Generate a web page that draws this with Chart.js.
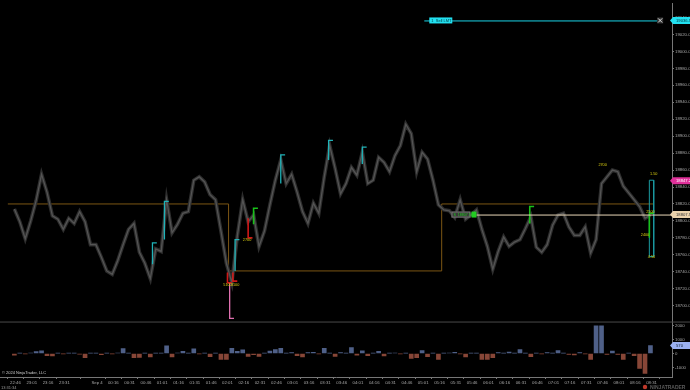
<!DOCTYPE html>
<html>
<head>
<meta charset="utf-8">
<script src="https://cdn.jsdelivr.net/npm/chart.js@4.4.1/dist/chart.umd.min.js"></script>
<style>
  html, body { margin: 0; padding: 0; background: #000; }
  #wrap { width: 690px; height: 390px; }
</style>
</head>
<body>
<div id="wrap"><canvas id="chart" width="690" height="390"></canvas></div>
<script>
// 5-minute closes, first bar 22:45 (Sep 3)
const startTime = "22:45";
const closes = [
  18814, 18799, 18779, 18800, 18824, 18855, 18834, 18806, 18802, 18790,
  18803, 18797, 18811, 18799, 18772, 18772, 18757, 18741, 18737, 18753,
  18772, 18790, 18797, 18763, 18750, 18732, 18767, 18764, 18825, 18786,
  18796, 18809, 18811, 18848, 18852, 18846, 18831, 18825, 18788, 18750,
  18727, 18782, 18825, 18799, 18807, 18770, 18788, 18819, 18848, 18872,
  18844, 18855, 18834, 18811, 18797, 18821, 18809, 18852, 18889, 18862,
  18832, 18844, 18863, 18854, 18881, 18844, 18848, 18875, 18869, 18858,
  18877, 18889, 18914, 18903, 18858, 18881, 18873, 18848, 18819, 18813,
  18812, 18804, 18825, 18802, 18807, 18813, 18790, 18770, 18743, 18764,
  18781, 18770, 18775, 18778, 18791, 18805, 18769, 18763, 18772, 18795,
  18807, 18809, 18793, 18783, 18783, 18793, 18762, 18778, 18844, 18852,
  18860, 18858, 18841, 18833, 18825, 18817, 18803, 18807
];
// cumulative delta per 5-minute bar
const deltas = [
  -120, 30, -20, 40, 140, 200, -150, -180, 20, -30,
  30, 20, -40, -300, 20, 30, -80, 20, -30, 40,
  360, 30, -300, -280, 20, -250, 30, 20, 560, -250,
  40, 150, 30, 330, -20, 30, -230, 20, -420, -430,
  380, 150, 260, -200, -80, -200, 30, 180, 280, 370,
  20, 60, -150, -250, 60, 80, -30, 380, 20, -200,
  60, 30, 420, -110, 200, -150, 30, 150, -180, 20,
  40, -30, 20, -360, -300, 220, -230, 30, -430, 20,
  40, 80, -30, -250, 30, 20, -420, -430, -300, 60,
  30, 100, 20, 280, 30, -220, 20, -30, 60, 30,
  210, 20, -60, -100, 60, -30, -420, 2000, 2000, -60,
  180, -70, -430, 30, -150, -1070, -1430, 570
];

const priceTicks = [19040, 19020, 19000, 18980, 18960, 18940, 18920, 18900, 18880,
  18860, 18840, 18820, 18800, 18780, 18760, 18740, 18720, 18700];
const deltaTicks = [2000, 1500, 1000, 500, 0, -500, -1000, -1500];
const timeLabels = ["22:46", "23:01", "23:16", "23:31", "Sep 4", "00:16", "00:31", "00:46",
  "01:01", "01:16", "01:31", "01:46", "02:01", "02:16", "02:31", "02:46", "03:01", "03:16",
  "03:31", "03:46", "04:01", "04:16", "04:31", "04:46", "05:01", "05:16", "05:31", "05:46",
  "06:01", "06:16", "06:31", "06:46", "07:01", "07:16", "07:31", "07:46", "08:01", "08:16", "08:31"];

// prior range (stepped line)
const rangeTimes = ["22:39", "02:02", "05:18", "08:33"];
const rangeLevels = [18820, 18741, 18820, 18820];

// signal markers
const cyanTimes = ["00:52", "01:03", "02:08", "02:50", "03:34", "04:05"];
const cyanLow = [18749, 18778, 18741, 18844, 18872, 18867];
const cyanHigh = [18774, 18823, 18778, 18878, 18895, 18887];
const greenTimes = ["02:25", "06:39", "08:29"];
const greenLow = [18796, 18797, 18780];
const greenHigh = [18815, 18817, 18809];
const redTimes = ["02:01", "02:06", "02:20"];
const redLow = [18727, 18729, 18780];
const redHigh = [18739, 18739, 18803];
const pinkTimes = ["02:03"];
const pinkLow = [18685];
const pinkHigh = [18727];

// small yellow tags
const tagTimes = ["07:46", "08:33", "08:25", "08:30", "08:31", "02:19", "02:01", "02:08"];
const tagPrices = [18866, 18855, 18784, 18810, 18757, 18777, 18725, 18725];
const tagTexts = ["2700", "1.50", "2400", "2500", "4.50", "2700", "5100", "3100"];

// open order / position / current
const orderTimes = ["05:02", "08:38"];
const orderPrice = 19036.5;
const positionTimes = ["05:27", "08:42"];
const positionPrice = 18807.5;
const markPrice = 18847.25;
const boxTimes = ["08:29", "08:33"];
const boxLow = 18758;
const boxHigh = 18848;

function toMin(s) {
  if (s === "Sep 4") s = "00:01";
  const [h, m] = s.split(":").map(Number);
  const [h0, m0] = startTime.split(":").map(Number);
  let d = h * 60 + m - (h0 * 60 + m0);
  if (d < -120) d += 1440;
  return d;
}

const priceData = closes.map((c, i) => ({ x: i * 5, y: c }));
const deltaData = deltas.map((d, i) => ({ x: i * 5, y: d }));
const rangeData = rangeTimes.map((t, i) => ({ x: toMin(t), y: rangeLevels[i] }));

function markerPoints(times, lows, highs, tickAtTop) {
  const pts = [];
  times.forEach((t, i) => {
    const x = toMin(t);
    const tickY = tickAtTop ? highs[i] : lows[i];
    pts.push({ x: x, y: lows[i] }, { x: x, y: highs[i] });
    pts.push({ x: x, y: tickY }, { x: x + 4, y: tickY }, { x: x + 4, y: null });
  });
  return pts;
}

const bx0 = toMin(boxTimes[0]), bx1 = toMin(boxTimes[1]);
const boxData = [
  { x: bx0, y: boxLow }, { x: bx0, y: boxHigh }, { x: bx1, y: boxHigh },
  { x: bx1, y: boxLow }, { x: bx0, y: boxLow }
];

const fontFam = "Arial, 'Liberation Sans', sans-serif";

const overlay = {
  id: "overlay",
  beforeDraw(chart) {
    const c = chart.ctx;
    c.save();
    c.fillStyle = "#000";
    c.fillRect(0, 0, chart.width, chart.height);
    c.restore();
  },
  afterDraw(chart) {
    const c = chart.ctx;
    const xs = chart.scales.x, ys = chart.scales.y, vs = chart.scales.v;
    c.save();
    // panel separator
    c.strokeStyle = "#4a4a4a";
    c.lineWidth = 1;
    c.beginPath();
    c.moveTo(0, ys.bottom + 0.5);
    c.lineTo(chart.width, ys.bottom + 0.5);
    c.stroke();

    // order line (cyan)
    const oy = ys.getPixelForValue(orderPrice);
    const ox0 = xs.getPixelForValue(toMin(orderTimes[0]));
    const ox1 = xs.getPixelForValue(toMin(orderTimes[1]));
    c.strokeStyle = "#19d3e6";
    c.beginPath();
    c.moveTo(ox0, oy + 0.5);
    c.lineTo(ox1, oy + 0.5);
    c.stroke();
    c.fillStyle = "#22e0f0";
    c.fillRect(ox0 + 5, oy - 3, 23, 6);
    c.fillStyle = "#003a40";
    c.font = "4px " + fontFam;
    c.textBaseline = "middle";
    c.fillText("1  Sell LMT", ox0 + 7, oy + 0.3);
    // close X
    c.strokeStyle = "#ddd";
    c.fillStyle = "#333";
    c.fillRect(ox1 - 2, oy - 3, 6, 6);
    c.beginPath();
    c.moveTo(ox1 - 1, oy - 2); c.lineTo(ox1 + 3, oy + 2);
    c.moveTo(ox1 + 3, oy - 2); c.lineTo(ox1 - 1, oy + 2);
    c.stroke();

    // position line (tan)
    const py = ys.getPixelForValue(positionPrice);
    const px0 = xs.getPixelForValue(toMin(positionTimes[0]));
    c.strokeStyle = "#e9d8b8";
    c.beginPath();
    c.moveTo(px0 + 25, py + 0.5);
    c.lineTo(ys.left, py + 0.5);
    c.stroke();
    c.fillStyle = "#3a3a3a";
    c.fillRect(px0, py - 3, 19, 6);
    c.strokeStyle = "#777";
    c.strokeRect(px0 + 0.5, py - 2.5, 18, 5);
    c.fillStyle = "#22cc22";
    c.fillRect(px0 + 20, py - 3, 5, 6);
    c.font = "3.6px " + fontFam;
    c.fillText("S  18807.50", px0 + 2, py + 0.3);

    // yellow tags
    c.fillStyle = "#d8cc10";
    c.font = "3.8px " + fontFam;
    c.textAlign = "center";
    tagTimes.forEach((t, i) => {
      c.fillText(tagTexts[i], xs.getPixelForValue(toMin(t)), ys.getPixelForValue(tagPrices[i]));
    });

    // right-axis price flags
    c.textAlign = "left";
    const flag = (y, bg, fg, txt) => {
      c.fillStyle = bg;
      c.beginPath();
      c.moveTo(ys.left - 2, y);
      c.lineTo(ys.left + 1, y - 3.5);
      c.lineTo(chart.width, y - 3.5);
      c.lineTo(chart.width, y + 3.5);
      c.lineTo(ys.left + 1, y + 3.5);
      c.closePath();
      c.fill();
      c.fillStyle = fg;
      c.font = "4.2px " + fontFam;
      c.fillText(txt, ys.left + 4, y + 0.3);
    };
    flag(oy, "#22e0f0", "#003a40", orderPrice.toFixed(2));
    flag(ys.getPixelForValue(markPrice), "#e0309a", "#fff", markPrice.toFixed(2));
    flag(py, "#ecd3ac", "#333", positionPrice.toFixed(2));
    flag(vs.getPixelForValue(deltas[deltas.length - 1]), "#9bb0f0", "#123", String(deltas[deltas.length - 1]));

    // footer texts
    c.fillStyle = "#cfcfcf";
    c.font = "4px " + fontFam;
    c.fillText("\u00a9 2024 NinjaTrader, LLC", 2, vs.bottom - 4);
    c.fillStyle = "#9a9a9a";
    c.fillText("13:31:34", 1, chart.height - 2.5);
    c.fillStyle = "#5a5a5a";
    c.font = "bold 5px " + fontFam;
    c.fillText("NINJATRADER", 650, chart.height - 2.5);
    c.fillStyle = "#c0392b";
    c.beginPath();
    c.arc(645, chart.height - 3, 2.2, 0, Math.PI * 2);
    c.fill();
    c.restore();
  }
};

new Chart(document.getElementById("chart"), {
  data: {
    datasets: [
      {
        type: "line", label: "range", data: rangeData, stepped: "before", order: 12,
        borderColor: "#7c5614", borderWidth: 1, pointRadius: 0, yAxisID: "y"
      },
      {
        type: "line", label: "price wicks", data: priceData, order: 11,
        borderColor: "#2e2e2e", borderWidth: 3.6, pointRadius: 0, tension: 0, yAxisID: "y"
      },
      {
        type: "line", label: "price", data: priceData, order: 10,
        borderColor: "#545454", borderWidth: 1.3, pointRadius: 0, tension: 0, yAxisID: "y"
      },
      {
        type: "line", label: "cyan", data: markerPoints(cyanTimes, cyanLow, cyanHigh, true), order: 1,
        borderColor: "#1fb3b8", borderWidth: 1.3, pointRadius: 0, spanGaps: false, yAxisID: "y"
      },
      {
        type: "line", label: "green", data: markerPoints(greenTimes, greenLow, greenHigh, true), order: 1,
        borderColor: "#19c019", borderWidth: 1.6, pointRadius: 0, spanGaps: false, yAxisID: "y"
      },
      {
        type: "line", label: "red", data: markerPoints(redTimes, redLow, redHigh, false), order: 1,
        borderColor: "#d01818", borderWidth: 1.6, pointRadius: 0, spanGaps: false, yAxisID: "y"
      },
      {
        type: "line", label: "pink", data: markerPoints(pinkTimes, pinkLow, pinkHigh, false), order: 1,
        borderColor: "#e070b0", borderWidth: 1.3, pointRadius: 0, spanGaps: false, yAxisID: "y"
      },
      {
        type: "line", label: "box", data: boxData, order: 2,
        borderColor: "#1b9aa0", borderWidth: 1, pointRadius: 0, yAxisID: "y"
      },
      {
        type: "bar", label: "delta", data: deltaData, yAxisID: "v", order: 5,
        backgroundColor: deltas.map(d => d >= 0 ? "#4f6088" : "#874637"),
        barThickness: 4
      }
    ]
  },
  options: {
    responsive: false,
    animation: false,
    events: [],
    layout: { padding: 0 },
    plugins: { legend: { display: false }, tooltip: { enabled: false } },
    scales: {
      x: {
        type: "linear", position: "bottom",
        min: -5.3, max: 596.9,
        afterBuildTicks: s => { s.ticks = timeLabels.map(t => ({ value: toMin(t) })); },
        afterFit: s => { s.height = 13; },
        ticks: {
          autoSkip: false, maxRotation: 0, padding: 1,
          color: "#a8a8a8", font: { size: 4.3, family: fontFam },
          callback: (v, i) => timeLabels[i]
        },
        grid: { drawOnChartArea: false, color: "#777", tickLength: 2 },
        border: { color: "#777" }
      },
      y: {
        type: "linear", position: "right", stack: "panes", stackWeight: 321,
        min: 18681.3, max: 19056.4,
        afterBuildTicks: s => { s.ticks = priceTicks.map(v => ({ value: v })); },
        afterFit: s => { s.width = 18; },
        ticks: {
          padding: 1, color: "#a8a8a8", font: { size: 4.3, family: fontFam },
          callback: v => v.toFixed(2)
        },
        grid: { drawOnChartArea: false, color: "#777", tickLength: 2 },
        border: { color: "#777" }
      },
      v: {
        type: "linear", position: "right", stack: "panes", stackWeight: 56,
        min: -1693, max: 2307,
        afterBuildTicks: s => { s.ticks = deltaTicks.map(v => ({ value: v })); },
        afterFit: s => { s.width = 18; },
        ticks: {
          padding: 1, color: "#a8a8a8", font: { size: 4.3, family: fontFam },
          callback: v => String(v)
        },
        grid: { drawOnChartArea: false, color: "#777", tickLength: 2 },
        border: { color: "#777" }
      }
    }
  },
  plugins: [overlay]
});
</script>
</body>
</html>
